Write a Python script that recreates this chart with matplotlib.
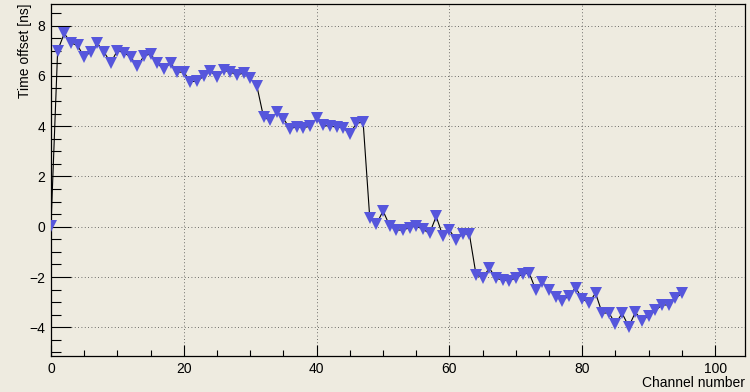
import numpy as np
import matplotlib.pyplot as plt
from matplotlib.ticker import MultipleLocator

# channel offsets
channels = np.arange(96)
offsets = [
    0.05, 7.01, 7.69, 7.31, 7.21, 6.75, 6.96, 7.29, 6.94, 6.52,
    7.01, 6.92, 6.75, 6.39, 6.79, 6.88, 6.50, 6.26, 6.52, 6.15,
    6.15, 5.77, 5.79, 5.99, 6.19, 5.95, 6.22, 6.16, 6.03, 6.12,
    5.90, 5.60, 4.37, 4.23, 4.56, 4.30, 3.90, 3.98, 3.94, 4.00,
    4.31, 4.03, 4.00, 3.97, 3.94, 3.70, 4.12, 4.16, 0.34, 0.10,
    0.63, 0.04, -0.13, -0.13, -0.03, 0.03, -0.10, -0.26, 0.41, -0.36,
    -0.13, -0.53, -0.27, -0.30, -1.90, -2.04, -1.64, -2.05, -2.12, -2.14,
    -2.04, -1.88, -1.84, -2.51, -2.21, -2.50, -2.78, -2.94, -2.74, -2.42,
    -2.87, -3.02, -2.64, -3.44, -3.42, -3.86, -3.44, -3.97, -3.40, -3.73,
    -3.53, -3.33, -3.11, -3.11, -2.84, -2.65,
]

bg = '#eeebe0'
plt.rcParams['font.family'] = ['Liberation Sans', 'DejaVu Sans']

fig = plt.figure(figsize=(7.5, 3.92), dpi=100, facecolor=bg)
ax = fig.add_axes([51 / 750, 36 / 392, 694 / 750, 352 / 392], facecolor=bg)

ax.plot(channels, offsets, color='black', lw=0.8, zorder=2)
ax.plot(channels, offsets, ls='none', marker='v', ms=8.5,
        color='#5656dc', mew=0, zorder=3)

ax.set_xlim(0, 104.5)
ax.set_ylim(-5.14, 8.86)

ax.xaxis.set_major_locator(MultipleLocator(20))
ax.xaxis.set_minor_locator(MultipleLocator(5))
ax.yaxis.set_major_locator(MultipleLocator(2))
ax.yaxis.set_minor_locator(MultipleLocator(0.5))

ax.tick_params(axis='both', which='both', direction='in', labelsize=10,
               color='black', width=0.8)
ax.tick_params(axis='x', which='major', length=8, pad=4)
ax.tick_params(axis='x', which='minor', length=4)
ax.tick_params(axis='y', which='major', length=14.5, pad=4)
ax.tick_params(axis='y', which='minor', length=7)

ax.grid(True, which='major', color='#444444', lw=0.6, ls=(0, (1, 3)))
ax.set_axisbelow(True)
for s in ax.spines.values():
    s.set_linewidth(0.9)

fig.text(745 / 750, 1 - 383 / 392, 'Channel number', ha='right', va='center',
         fontsize=10)
fig.text(25 / 750, 1 - 4 / 392, 'Time offset [ns]', ha='center', va='top',
         rotation=90, fontsize=10)

fig.savefig('out.png', dpi=100, facecolor=bg)
